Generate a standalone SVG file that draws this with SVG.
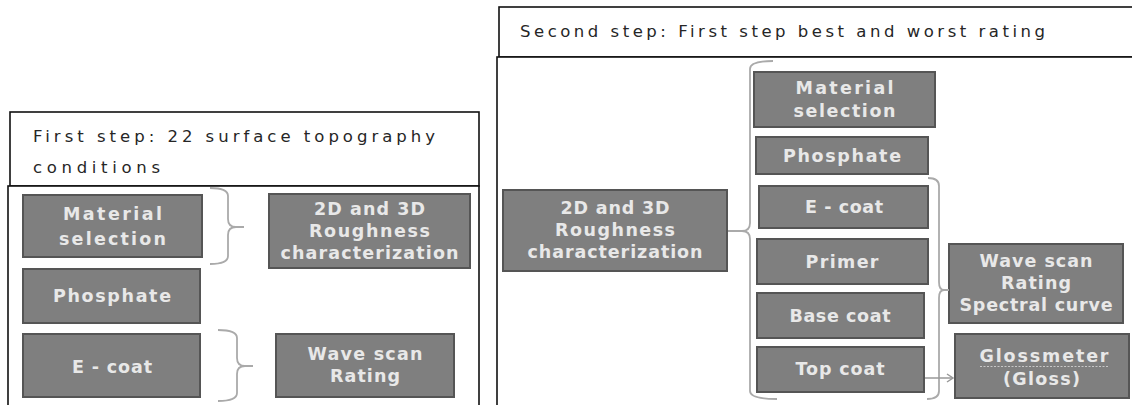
<svg xmlns="http://www.w3.org/2000/svg" width="1132" height="405" viewBox="0 0 1132 405">
<defs>
<style>
.panel{fill:#fff;stroke:#111;stroke-width:1.6}
.node rect{fill:#7f7f7f;stroke:#555;stroke-width:2}
.node text{font-family:"DejaVu Sans","Open Sans",sans-serif;font-size:17.5px;font-weight:bold;fill:#e8e8e8;text-anchor:middle}
.title{font-family:"DejaVu Sans","Open Sans",sans-serif;font-size:16.5px;fill:#262626}
.br{fill:none;stroke:#aaa;stroke-width:1.8}
</style>
<marker id="ah" markerWidth="10" markerHeight="10" refX="8" refY="5" orient="auto" markerUnits="userSpaceOnUse">
<path d="M2,1 L8,5 L2,9" fill="none" stroke="#999" stroke-width="1.5"/>
</marker>
</defs>
<rect width="1132" height="405" fill="#fff"/>

<g id="panel-first">
<rect class="panel" x="10" y="112" width="469" height="74"/>
<rect class="panel" x="8" y="186" width="471" height="225"/>
<text class="title" x="33" y="142" textLength="402" lengthAdjust="spacing">First step: 22 surface topography</text>
<text class="title" x="33" y="173" textLength="127" lengthAdjust="spacing">conditions</text>
</g>

<g id="panel-second">
<rect class="panel" x="499" y="7" width="650" height="50"/>
<rect class="panel" x="497" y="57" width="652" height="354"/>
<text class="title" x="520" y="37" textLength="525" lengthAdjust="spacing">Second step: First step best and worst rating</text>
</g>

<g id="l-material" class="node">
<rect x="23" y="195" width="179" height="62"/>
<text x="112.5" y="220" textLength="99" lengthAdjust="spacing">Material</text>
<text x="112.5" y="245" textLength="107" lengthAdjust="spacing">selection</text>
</g>
<g id="l-phosphate" class="node">
<rect x="23" y="269" width="177" height="54"/>
<text x="112" y="302" textLength="118" lengthAdjust="spacing">Phosphate</text>
</g>
<g id="l-ecoat" class="node">
<rect x="23" y="334" width="177" height="63"/>
<text x="112" y="373" textLength="80" lengthAdjust="spacing">E - coat</text>
</g>
<g id="l-roughness" class="node">
<rect x="269" y="194" width="201" height="74"/>
<text x="369.5" y="215" textLength="111" lengthAdjust="spacing">2D and 3D</text>
<text x="369.5" y="237" textLength="121" lengthAdjust="spacing">Roughness</text>
<text x="369.5" y="259" textLength="178" lengthAdjust="spacing">characterization</text>
</g>
<g id="l-wavescan" class="node">
<rect x="276" y="334" width="178" height="63"/>
<text x="365" y="360" textLength="115" lengthAdjust="spacing">Wave scan</text>
<text x="365" y="382" textLength="70" lengthAdjust="spacing">Rating</text>
</g>

<g id="r-roughness" class="node">
<rect x="503" y="190" width="224" height="81"/>
<text x="615" y="214" textLength="109" lengthAdjust="spacing">2D and 3D</text>
<text x="615" y="236" textLength="120" lengthAdjust="spacing">Roughness</text>
<text x="615" y="258" textLength="175" lengthAdjust="spacing">characterization</text>
</g>
<g id="r-material" class="node">
<rect x="754" y="72" width="181" height="55"/>
<text x="844.5" y="94" textLength="98" lengthAdjust="spacing">Material</text>
<text x="844.5" y="117" textLength="102" lengthAdjust="spacing">selection</text>
</g>
<g id="r-phosphate" class="node">
<rect x="756" y="137" width="172" height="37"/>
<text x="842" y="162" textLength="118" lengthAdjust="spacing">Phosphate</text>
</g>
<g id="r-ecoat" class="node">
<rect x="759" y="186" width="169" height="42"/>
<text x="844" y="213" textLength="78" lengthAdjust="spacing">E - coat</text>
</g>
<g id="r-primer" class="node">
<rect x="757" y="239" width="171" height="45"/>
<text x="842" y="268" textLength="73" lengthAdjust="spacing">Primer</text>
</g>
<g id="r-basecoat" class="node">
<rect x="757" y="293" width="167" height="45"/>
<text x="840" y="322" textLength="101" lengthAdjust="spacing">Base coat</text>
</g>
<g id="r-topcoat" class="node">
<rect x="757" y="347" width="167" height="45"/>
<text x="840" y="375" textLength="89" lengthAdjust="spacing">Top coat</text>
</g>
<g id="r-wavescan" class="node">
<rect x="949" y="244" width="174" height="79"/>
<text x="1036" y="267" textLength="113" lengthAdjust="spacing">Wave scan</text>
<text x="1036" y="289" textLength="70" lengthAdjust="spacing">Rating</text>
<text x="1036" y="311" textLength="153" lengthAdjust="spacing">Spectral curve</text>
</g>
<g id="r-glossmeter" class="node">
<rect x="955" y="334" width="174" height="64"/>
<text x="1044" y="362" textLength="129" lengthAdjust="spacing">Glossmeter</text>
<path d="M980,366.5 H1109" fill="none" stroke="#c8c8c8" stroke-width="1" stroke-dasharray="2,1.5"/>
<text x="1041.5" y="385" textLength="77" lengthAdjust="spacing">(Gloss)</text>
</g>

<g id="connectors">
<path class="br" d="M210,188 Q228,188 228,196 V219 Q228,227 236,227 H244 M236,227 Q228,227 228,235 V256 Q228,264 210,264"/>
<path class="br" d="M218,330 Q237,330 237,338 V358 Q237,366 245,366 H253 M245,366 Q237,366 237,374 V393 Q237,401 218,401"/>
<path class="br" d="M773,61 Q750,61 750,69 V223 Q750,231 742,231 H728 M742,231 Q750,231 750,239 V391 Q750,399 777,399"/>
<path class="br" d="M928,178 Q939,178 939,186 V282 Q939,290 944,290 H949 M944,290 Q939,290 939,298 V391 Q939,399 927,399"/>
<path d="M925,378 H953" fill="none" stroke="#999" stroke-width="1.5" marker-end="url(#ah)"/>
</g>
</svg>
